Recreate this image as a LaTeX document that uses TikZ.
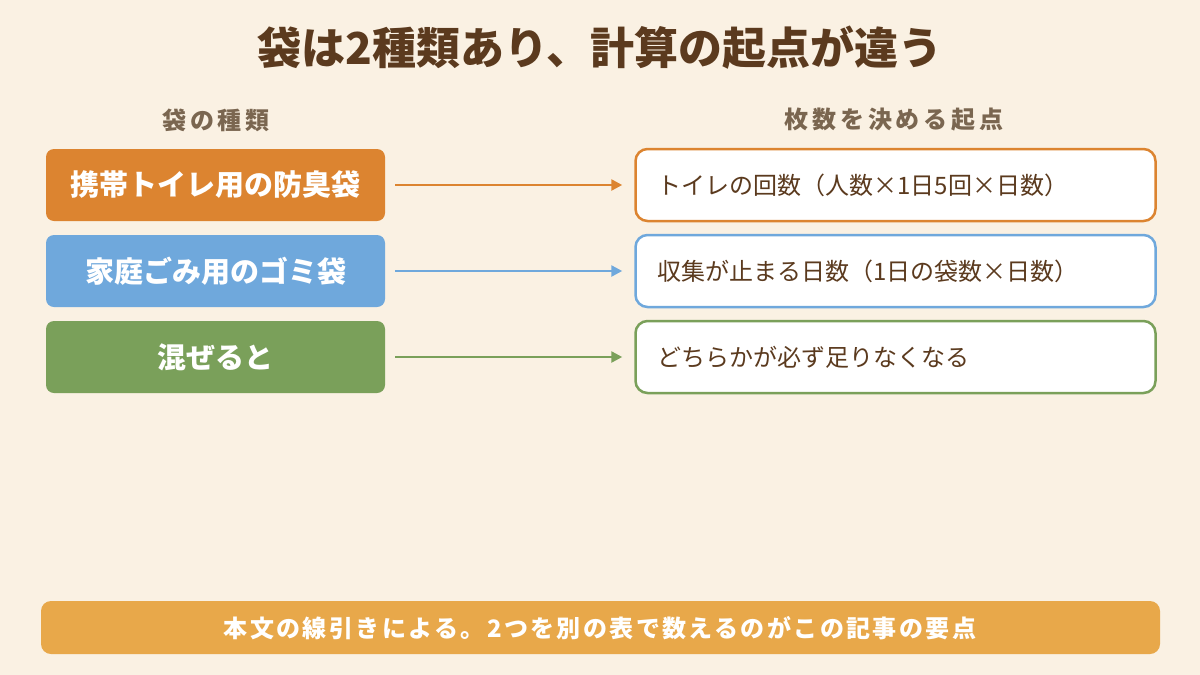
\documentclass[tikz,border=0pt]{standalone}
\usepackage{fontspec}
\setmainfont{Noto Sans CJK JP}
\usetikzlibrary{arrows.meta}
\definecolor{bg}{HTML}{FAF1E3}
\definecolor{cOr}{HTML}{DC8430}
\definecolor{cBl}{HTML}{6FA8DC}
\definecolor{cGr}{HTML}{7AA05A}
\definecolor{cTitle}{HTML}{5B3A1E}
\definecolor{cHead}{HTML}{7A6650}
\definecolor{cFoot}{HTML}{E8A84A}
\tikzset{
  leftbox/.style={rounded corners=8pt, minimum width=339pt, minimum height=72pt, text=white, font=\fontsize{29}{34}\selectfont\bfseries, inner sep=0pt},
  rightbox/.style={rounded corners=12pt, draw=#1, line width=2.5pt, fill=white, minimum width=520pt, minimum height=72pt, inner sep=0pt},
  rtext/.style={anchor=west, text=cTitle, font=\fontsize{24}{28}\selectfont},
  link/.style={draw=#1, line width=2.5pt, -{Triangle[length=11pt,width=11pt]}},
  head/.style={text=cHead, font=\fontsize{24}{28}\selectfont\bfseries\addfontfeature{LetterSpace=16}}
}
\begin{document}
\begin{tikzpicture}[x=1pt,y=-1pt]
\fill[bg] (0,0) rectangle (1200,675);
\useasboundingbox (0,0) rectangle (1200,675);
\node[text=cTitle, font=\fontsize{44}{50}\selectfont\bfseries] (title) at (600,48) {袋は2種類あり、計算の起点が違う};
\node[head] (h1) at (216,120) {袋の種類};
\node[head] (h2) at (894,120) {枚数を決める起点};
\node[leftbox, fill=cOr] (l1) at (215.5,185) {携帯トイレ用の防臭袋};
\node[leftbox, fill=cBl] (l2) at (215.5,271) {家庭ごみ用のゴミ袋};
\node[leftbox, fill=cGr] (l3) at (215.5,357) {混ぜると};
\node[rightbox=cOr] (r1) at (895.5,185) {};
\node[rightbox=cBl] (r2) at (895.5,271) {};
\node[rightbox=cGr] (r3) at (895.5,357) {};
\node[rtext] (t1) at (654,185) {トイレの回数（人数×1日5回×日数）};
\node[rtext] (t2) at (654,271) {収集が止まる日数（1日の袋数×日数）};
\node[rtext] (t3) at (654,357) {どちらかが必ず足りなくなる};
\draw[link=cOr] (l1.east) ++(10,0) coordinate (a1) -- ([xshift=-12pt]r1.west);
\draw[link=cBl] (l2.east) ++(10,0) coordinate (a2) -- ([xshift=-12pt]r2.west);
\draw[link=cGr] (l3.east) ++(10,0) coordinate (a3) -- ([xshift=-12pt]r3.west);
\node[fill=cFoot, rounded corners=10pt, minimum width=1119pt, minimum height=53pt, inner sep=0pt] (foot) at (600.5,627.5) {};
\node[text=white, font=\fontsize{24}{28}\selectfont\bfseries\addfontfeature{LetterSpace=10}] (foottext) at (600,628) {本文の線引きによる。2つを別の表で数えるのがこの記事の要点};
\end{tikzpicture}
\end{document}
